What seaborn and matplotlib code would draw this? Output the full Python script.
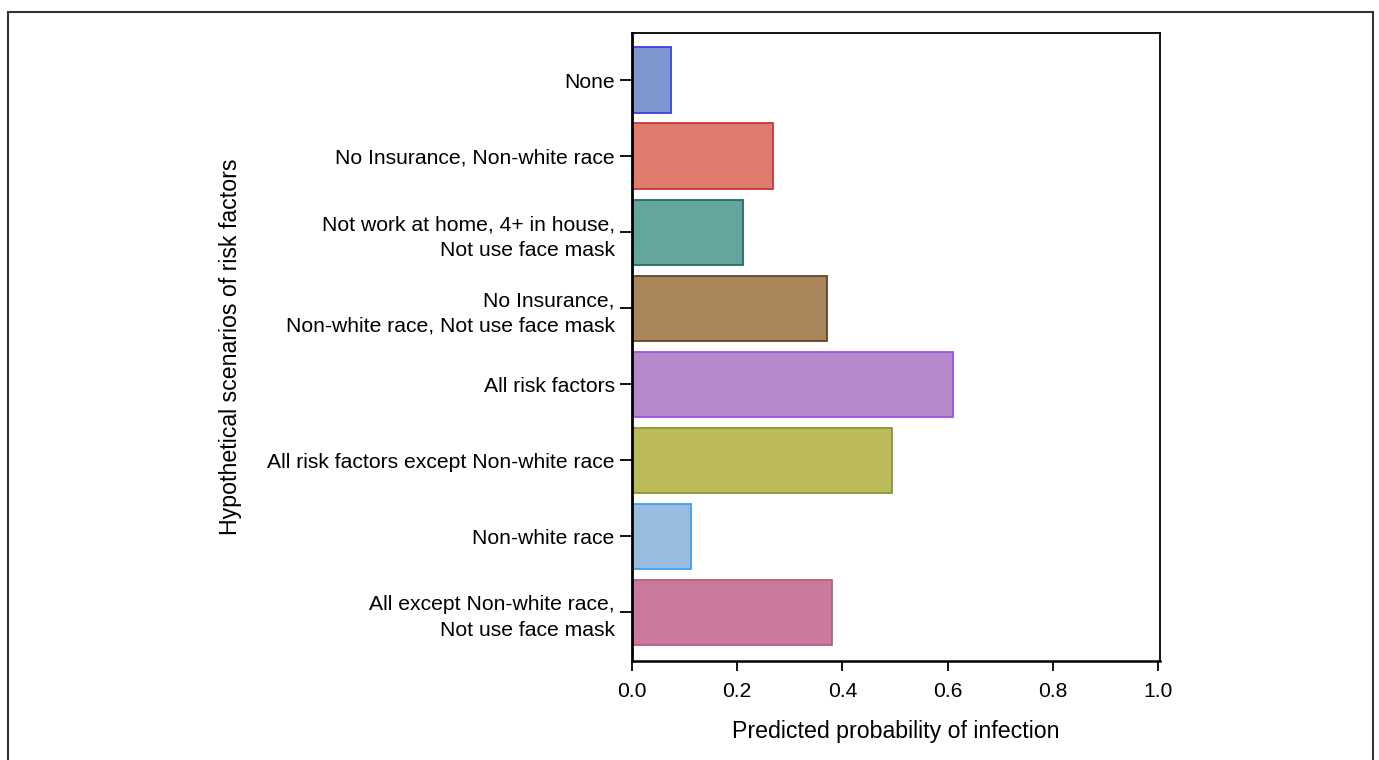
import matplotlib
matplotlib.use("Agg")
import matplotlib.pyplot as plt
import seaborn as sns
import pandas as pd
from matplotlib.patches import Rectangle

sns.set_style("white", {"text.color": "black", "axes.labelcolor": "black",
                        "xtick.color": "black", "ytick.color": "black"})
plt.rcParams['font.family'] = ['Liberation Sans', 'DejaVu Sans']

scenarios = ["None",
             "No Insurance, Non-white race",
             "Not work at home, 4+ in house,\nNot use face mask",
             "No Insurance,\nNon-white race, Not use face mask",
             "All risk factors",
             "All risk factors except Non-white race",
             "Non-white race",
             "All except Non-white race,\nNot use face mask"]
probability = [0.074, 0.269, 0.212, 0.370, 0.611, 0.495, 0.113, 0.381]

fills = ["#7F97CF", "#E07C6E", "#66A59D", "#A8865A",
         "#B589CB", "#BBBB5C", "#98BDE0", "#CC799E"]
edges = ["#3F3FDF", "#C8363E", "#1F6F5F", "#5F4525",
         "#A050E0", "#8A9530", "#3FA0F0", "#B0607F"]

df = pd.DataFrame({"scenario": scenarios, "p": probability})

fig = plt.figure(figsize=(13.79, 7.60), dpi=100)
ax = fig.add_axes([632 / 1379, 1 - 661 / 760, 528 / 1379, 628 / 760])

sns.barplot(data=df, x="p", y="scenario", hue="scenario", palette=fills,
            saturation=1, legend=False, width=0.86, orient="h", ax=ax)
for bar, ec in zip(ax.patches, edges):
    bar.set_edgecolor(ec)
    bar.set_linewidth(1.3)

ax.set_xlim(0, 1.004)
ax.set_ylim(7.64, -0.62)
ax.set_xticks([0, 0.2, 0.4, 0.6, 0.8, 1.0])
ax.set_xticklabels(["0.0", "0.2", "0.4", "0.6", "0.8", "1.0"])
ax.tick_params(axis="y", length=8.5, width=1.3, labelsize=15.2, pad=4, direction="out", left=True)
ax.tick_params(axis="x", length=7, width=1.3, labelsize=15.2, pad=8, direction="out", bottom=True)
for lab in ax.get_yticklabels():
    lab.set_linespacing(1.45)
for s in ax.spines.values():
    s.set_color("black")
    s.set_linewidth(1.3)
ax.spines["left"].set_linewidth(2)
ax.spines["bottom"].set_linewidth(1.8)

ax.set_xlabel("Predicted probability of infection", fontsize=16.7, labelpad=14)
ax.set_ylabel("Hypothetical scenarios of risk factors", fontsize=16.7)
ax.yaxis.set_label_coords(-0.738, 0.5)

fig.patches.append(Rectangle((8 / 1379, -0.05), 1365 / 1379, 1.05 - 12 / 760,
                             transform=fig.transFigure, fill=False,
                             edgecolor="#333333", linewidth=1.5))

fig.savefig("out.png", dpi=100)
